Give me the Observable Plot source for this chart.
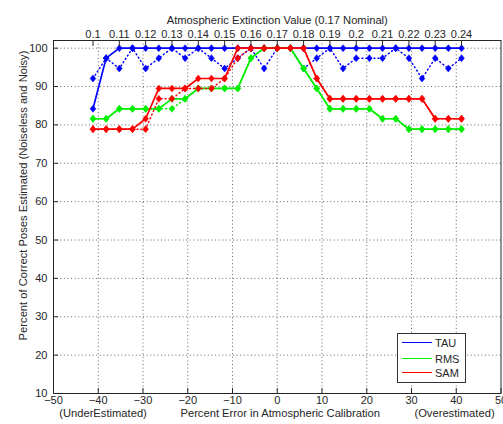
<!DOCTYPE html>
<html><head><meta charset="utf-8">
<script src="https://cdn.jsdelivr.net/npm/d3@7"></script>
<script src="https://cdn.jsdelivr.net/npm/@observablehq/plot@0.6"></script>
<style>
body{margin:0;background:#fff;}
#wrap{position:relative;width:503px;height:424px;font-family:"Liberation Sans",Arial,sans-serif;}
#legend{position:absolute;left:397px;top:333px;width:69px;height:50px;box-sizing:border-box;border:1px solid #333;background:#fff;font-size:11px;color:#262626;}
.row{position:absolute;left:0;width:67px;height:14px;}
.sw{position:absolute;left:4px;top:6px;width:30px;height:0;border-top:1.6px solid;}
.lb{position:absolute;left:37px;top:0;line-height:14px;}
</style></head><body><div id="wrap"></div>
<script>
// Atmospheric extinction values (0.17 nominal)
const extinction = [0.100,0.105,0.110,0.115,0.120,0.125,0.130,0.135,0.140,0.145,0.150,0.155,0.160,0.165,0.170,0.175,0.180,0.185,0.190,0.195,0.200,0.205,0.210,0.215,0.220,0.225,0.230,0.235,0.240];
const tauNoiseless = [84.2,97.4,100,100,100,100,100,100,100,100,100,100,100,100,100,100,100,100,100,100,100,100,100,100,100,100,100,100,100];
const tauNoisy     = [92.1,97.4,94.7,100,94.7,97.4,100,97.4,100,97.4,94.7,97.4,100,94.7,100,100,94.7,97.4,100,94.7,97.4,97.4,97.4,100,97.4,92.1,97.4,94.7,97.4];
const rmsNoiseless = [81.6,81.6,84.2,84.2,84.2,84.2,86.8,86.8,89.5,89.5,89.5,89.5,97.4,100,100,100,94.7,89.5,84.2,84.2,84.2,84.2,81.6,81.6,78.9,78.9,78.9,78.9,78.9];
const rmsNoisy     = [81.6,81.6,84.2,84.2,84.2,84.2,84.2,86.8,89.5,89.5,89.5,89.5,97.4,100,100,100,94.7,89.5,84.2,84.2,84.2,84.2,81.6,81.6,78.9,78.9,78.9,78.9,78.9];
const samNoiseless = [78.9,78.9,78.9,78.9,81.6,89.5,89.5,89.5,92.1,92.1,92.1,100,100,100,100,100,100,92.1,86.8,86.8,86.8,86.8,86.8,86.8,86.8,86.8,81.6,81.6,81.6];
const samNoisy     = [78.9,78.9,78.9,78.9,78.9,86.8,86.8,89.5,89.5,89.5,92.1,97.4,100,100,100,100,100,92.1,86.8,86.8,86.8,86.8,86.8,86.8,86.8,86.8,81.6,81.6,81.6];

const seriesNames = ["TAU","RMS","SAM"];
const seriesColors = ["#0000ff","#00f000","#ff0000"];
const xTicks = [-50,-40,-30,-20,-10,0,10,20,30,40,50];
const yTicks = [10,20,30,40,50,60,70,80,90,100];
const topTickLabels = [0.10,0.11,0.12,0.13,0.14,0.15,0.16,0.17,0.18,0.19,0.20,0.21,0.22,0.23,0.24];
const nominal = 0.17;

const extToErr = e => (e - nominal) / nominal * 100;
const rows = extinction.map((e, i) => ({
  err: extToErr(e),
  TAU: tauNoiseless[i], TAUn: tauNoisy[i],
  RMS: rmsNoiseless[i], RMSn: rmsNoisy[i],
  SAM: samNoiseless[i], SAMn: samNoisy[i]
}));
const topPos = topTickLabels.map(extToErr);
const topLabel = new Map(topPos.map((p, i) => [p, String(topTickLabels[i])]));

const diamond = {
  draw(ctx, size) {
    const h = Math.sqrt(size) * 0.62, w = h * 0.82;
    ctx.moveTo(0, -h); ctx.lineTo(w, 0); ctx.lineTo(0, h); ctx.lineTo(-w, 0); ctx.closePath();
  }
};

const ink = "#262626";
const seriesMarks = [];
seriesNames.forEach((name, k) => {
  const c = seriesColors[k];
  seriesMarks.push(
    Plot.line(rows, {x: "err", y: name, stroke: c, strokeWidth: 1.7}),
    Plot.dot(rows, {x: "err", y: name, fill: c, stroke: c, strokeWidth: 0.5, symbol: diamond, r: 3.2}),
    Plot.line(rows, {x: "err", y: name + "n", stroke: c, strokeWidth: 1.5, strokeDasharray: "1,3"}),
    Plot.dot(rows, {x: "err", y: name + "n", fill: c, stroke: c, strokeWidth: 0.5, symbol: diamond, r: 3.2})
  );
});

const chart = Plot.plot({
  width: 503, height: 424,
  marginLeft: 53, marginRight: 2.5, marginTop: 40, marginBottom: 31,
  style: {fontFamily: '"Liberation Sans", Arial, sans-serif', fontSize: "11px", color: ink, background: "#fff"},
  x: {domain: [-50, 50]},
  y: {domain: [10, 102]},
  marks: [
    Plot.gridX(xTicks.slice(1, -1), {stroke: "#555", strokeOpacity: 0.9, strokeDasharray: "1,2.6"}),
    Plot.gridY(yTicks.slice(1), {stroke: "#555", strokeOpacity: 0.9, strokeDasharray: "1,2.6"}),
    ...seriesMarks,
    Plot.frame({stroke: ink}),
    Plot.axisX(xTicks, {anchor: "bottom", tickSize: -5, tickPadding: 8, label: null, stroke: ink, fill: ink}),
    Plot.axisX(topPos, {anchor: "top", tickSize: -5, tickPadding: 7.5, label: null, tickFormat: d => topLabel.get(d), stroke: ink, fill: ink}),
    Plot.axisY(yTicks, {anchor: "left", tickSize: -5, tickPadding: 11, label: null, stroke: ink, fill: ink}),
    Plot.text(["Atmospheric Extinction Value (0.17 Nominal)"], {frameAnchor: "top", dy: -24, fill: ink, fontSize: 11.2}),
    Plot.text(["Percent Error in Atmospheric Calibration"], {frameAnchor: "bottom", dy: 23, dx: 3, fill: ink, fontSize: 11.2}),
    Plot.text(["(UnderEstimated)"], {frameAnchor: "bottom-left", dx: 49.5, dy: 23, textAnchor: "middle", fill: ink, fontSize: 11.2}),
    Plot.text(["(Overestimated)"], {frameAnchor: "bottom-right", dx: -46.5, dy: 23, textAnchor: "middle", fill: ink, fontSize: 11.2}),
    Plot.text(["Percent of Correct Poses Estimated (Noiseless and Noisy)"], {frameAnchor: "left", textAnchor: "middle", rotate: -90, dx: -30, dy: -21.5, fill: ink, fontSize: 11.2})
  ]
});

const wrap = document.getElementById("wrap");
wrap.appendChild(chart);

const legend = document.createElement("div");
legend.id = "legend";
const rowTops = [2.3, 17.7, 32.3];
seriesNames.forEach((name, k) => {
  const r = document.createElement("div");
  r.className = "row";
  r.style.top = rowTops[k] + "px";
  r.innerHTML = `<div class="sw" style="border-color:${seriesColors[k]}"></div><div class="lb">${name}</div>`;
  legend.appendChild(r);
});
wrap.appendChild(legend);
</script></body></html>
